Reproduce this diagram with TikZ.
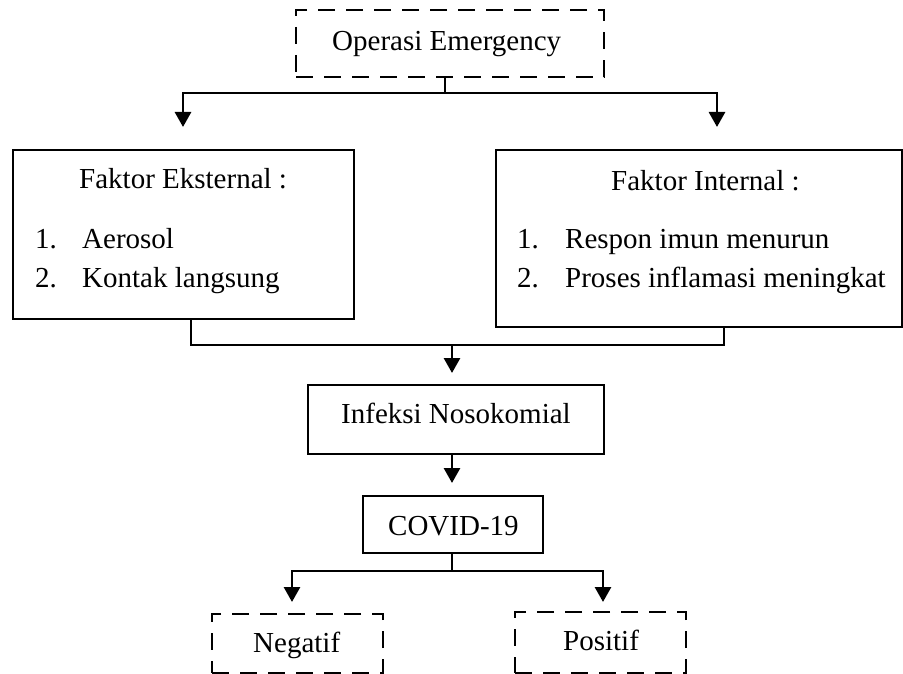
\documentclass[tikz,border=0pt]{standalone}
\usepackage{fontspec}
\setmainfont{Liberation Serif}
\usetikzlibrary{arrows.meta}
\begin{document}
\begin{tikzpicture}[x=1pt,y=-1pt,
  solidbox/.style={draw, line width=2.8pt, inner sep=0pt},
  dashbox/.style={draw, line width=2.8pt, inner sep=0pt, dash pattern=on 17pt off 11pt},
  txt/.style={font=\fontsize{29}{35}\selectfont, inner sep=0pt, anchor=base west},
  ln/.style={line width=2.8pt},
  arr/.style={line width=2.8pt, -{Triangle[width=16pt,length=15pt]}}]
\useasboundingbox (0,0) rectangle (903,674);

% boxes
\node[dashbox, minimum width=308pt, minimum height=67pt] (op) at (450,43.5) {};
\node[solidbox, minimum width=341pt, minimum height=169pt] (ext) at (183.5,234.5) {};
\node[solidbox, minimum width=406pt, minimum height=177pt] (int) at (699,238.5) {};
\node[solidbox, minimum width=296pt, minimum height=69pt] (inf) at (456,419.5) {};
\node[solidbox, minimum width=180pt, minimum height=57pt] (cov) at (453,524.5) {};
\node[dashbox, minimum width=171pt, minimum height=59pt] (neg) at (297.5,643.5) {};
\node[dashbox, minimum width=171pt, minimum height=61pt] (pos) at (600.5,642.5) {};

% texts
\node[txt] (optext) at (332,51) {Operasi Emergency};
\node[txt] (exttitle) at (79,189) {Faktor Eksternal :};
\node[txt] (extn1) at (35,248) {1.};
\node[txt] (exti1) at (82,248) {Aerosol};
\node[txt] (extn2) at (35,287) {2.};
\node[txt] (exti2) at (82,287) {Kontak langsung};
\node[txt] (inttitle) at (611,190) {Faktor Internal :};
\node[txt] (intn1) at (517,248) {1.};
\node[txt] (inti1) at (565,248) {Respon imun menurun};
\node[txt] (intn2) at (517,287) {2.};
\node[txt] (inti2) at (565,287) {Proses inflamasi meningkat};
\node[txt] (inftext) at (341,423) {Infeksi Nosokomial};
\node[txt] (covtext) at (388,535) {COVID-19};
\node[txt] (negtext) at (253,652) {Negatif};
\node[txt] (postext) at (563,650) {Positif};

% connectors: top split
\coordinate (j1) at (445,93);
\coordinate (tl) at (183,127);
\coordinate (tr) at (717,127);
\draw[arr] (op.south -| j1) -- (j1) -| (tl);
\draw[arr] (j1) -| (tr);

% merge
\coordinate (ml) at (191,345);
\coordinate (mr) at (724,345);
\coordinate (m) at (452,345);
\coordinate (tm) at (452,373);
\draw[ln] (ext.south -| ml) -- (ml) -- (mr) -- (int.south -| mr);
\draw[arr] (m) -- (tm);

% infeksi -> covid
\coordinate (c1) at (452,483);
\draw[arr] (inf.south -| c1) -- (c1);

% covid split
\coordinate (k) at (452,571);
\coordinate (kl) at (292,602);
\coordinate (kr) at (603,602);
\draw[arr] (cov.south -| k) -- (k) -| (kl);
\draw[arr] (k) -| (kr);
\end{tikzpicture}
\end{document}
